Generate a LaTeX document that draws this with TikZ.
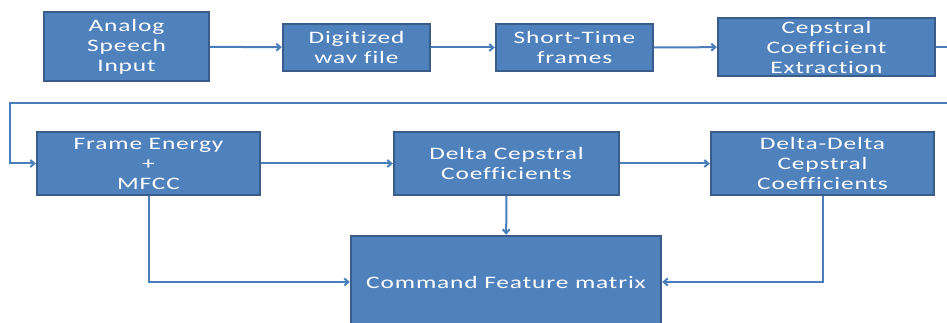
\documentclass[tikz,border=0pt]{standalone}
\usepackage{fontspec}
\setmainfont{Carlito}[FakeStretch=1.45,LetterSpace=5,Ligatures={NoCommon}]
\usetikzlibrary{positioning, arrows.meta}
\definecolor{boxfill}{HTML}{4F81BD}
\definecolor{boxline}{HTML}{385D8A}
\definecolor{wire}{HTML}{4A7EBB}
\tikzset{
    x=1pt, y=-1pt, % pixel-like units, y grows downwards
    blk/.style={draw=boxline, fill=boxfill, line width=2.4pt, text=white,
        align=center, inner sep=0pt, font=\fontsize{17.5}{20}\selectfont}, % the blue boxes
    wire/.style={draw=wire, line width=2pt, -{Straight Barb[length=4pt,width=7pt]}}, % the connectors
}

\begin{document}
\begin{tikzpicture}
    \useasboundingbox (0,0) rectangle (947,323);
    % top row
    \node[blk, minimum width=165pt, minimum height=69pt] (inp) at (126.5,46.5) {Analog\\Speech\\Input};
    \node[blk, minimum width=147pt, minimum height=47pt] (wav) at (356.5,47.5) {Digitized\\wav file};
    \node[blk, minimum width=157pt, minimum height=47pt] (frm) at (574.5,47.5) {Short-Time\\frames};
    \node[blk, minimum width=217pt, minimum height=58pt] (cep) at (826.5,47) {Cepstral\\Coefficient\\Extraction};
    % second row
    \node[blk, minimum width=223pt, minimum height=63pt] (fen) at (148.5,163.5) {Frame Energy\\+\\MFCC};
    \node[blk, minimum width=225pt, minimum height=63pt] (dcc) at (506.5,163.5) {Delta Cepstral\\Coefficients};
    \node[blk, minimum width=223pt, minimum height=63pt] (ddc) at (822.5,163.5) {Delta-Delta\\Cepstral\\Coefficients};
    % output
    \node[blk, minimum width=310pt, minimum height=92pt] (cmd) at (506,282) {Command Feature matrix};
    \coordinate (r1) at (949,103);
    \coordinate (l1) at (10,103);
    \draw[wire] (inp) -- (wav);
    \draw[wire] (wav) -- (frm);
    \draw[wire] (frm) -- (cep);
    \draw[wire] (cep.east) -| (r1) -- (l1) |- (fen.west);
    \draw[wire] (fen) -- (dcc);
    \draw[wire] (dcc) -- (ddc);
    \draw[wire] (dcc) -- (cmd);
    \draw[wire] (fen.south) |- (cmd.west);
    \draw[wire] (ddc.south) |- (cmd.east);
\end{tikzpicture}
\end{document}
